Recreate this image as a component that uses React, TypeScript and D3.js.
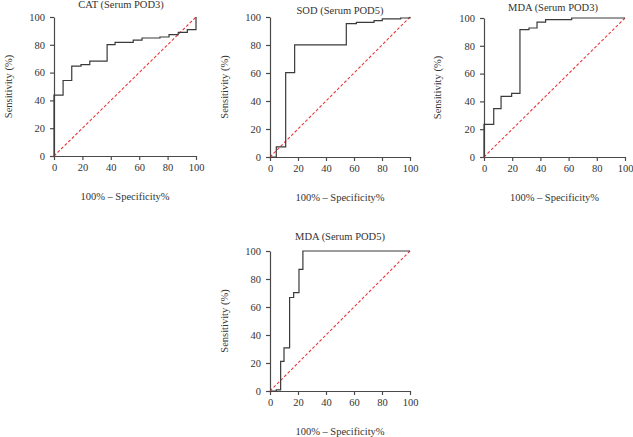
import React, { useEffect, useRef } from 'react';
import * as d3 from 'd3';

// ROC step points (100% - specificity, sensitivity)
const catX = [0, 0, 6.4, 12.5, 19, 25.2, 37.4, 43, 55.8, 62, 74.6, 81, 87.5, 93.9, 100];
const catY = [0, 43.8, 54.3, 64.6, 65.8, 68.2, 80.1, 81.8, 83.3, 84.9, 85.6, 87.3, 89, 90.9, 100];

const sodX = [0, 4.5, 11.2, 17.6, 54.5, 61.7, 74.3, 80.2, 93.3, 100];
const sodY = [0, 7.2, 60.3, 80.1, 95.2, 96.2, 97.4, 98.6, 99.3, 100];

const mda3X = [0, 0, 6.9, 12.1, 19.6, 25.5, 31.9, 37.6, 43.7, 62.2, 100];
const mda3Y = [0, 23.5, 34.8, 43.6, 45.8, 91.6, 92.8, 97.1, 98.8, 100, 100];

const mda5X = [0, 4.5, 7.6, 10, 14, 16.9, 20.7, 23.5, 100];
const mda5Y = [0, 0.8, 21.2, 30.8, 66.8, 70.2, 86.9, 100, 100];

const titles = ['CAT (Serum POD3)', 'SOD (Serum POD5)', 'MDA (Serum POD3)', 'MDA (Serum POD5)'];
const axisTicks = [0, 20, 40, 60, 80, 100];

const FONT = '"Liberation Serif", "DejaVu Serif", serif';

// panel placement on the page (pixels)
const panels = [
  { xs: catX, ys: catY, title: titles[0], left: 54, right: 196, top: 17, bottom: 156, titleX: 121, titleY: 8, yLabX: 8 },
  { xs: sodX, ys: sodY, title: titles[1], left: 270, right: 410, top: 17, bottom: 157, titleX: 340, titleY: 14, yLabX: 224 },
  { xs: mda3X, ys: mda3Y, title: titles[2], left: 484, right: 625, top: 18, bottom: 157, titleX: 553, titleY: 11, yLabX: 437 },
  { xs: mda5X, ys: mda5Y, title: titles[3], left: 270, right: 410, top: 251, bottom: 391, titleX: 340, titleY: 240, yLabX: 224 },
];

const App = () => {
  const svgRef = useRef<SVGSVGElement>(null);

  useEffect(() => {
    const svg = d3.select(svgRef.current);
    svg.selectAll('*').remove();

    panels.forEach((p) => {
      const x = d3.scaleLinear().domain([0, 100]).range([p.left, p.right]);
      const y = d3.scaleLinear().domain([0, 100]).range([p.bottom, p.top]);
      const g = svg.append('g');

      // axes
      const xAxis = g
        .append('g')
        .attr('transform', `translate(0,${p.bottom})`)
        .call(d3.axisBottom(x).tickValues(axisTicks).tickSize(4).tickSizeOuter(0).tickPadding(4));
      const yAxis = g
        .append('g')
        .attr('transform', `translate(${p.left},0)`)
        .call(d3.axisLeft(y).tickValues(axisTicks).tickSize(4).tickSizeOuter(0).tickPadding(5));
      [xAxis, yAxis].forEach((a) => {
        a.selectAll('path, line').attr('stroke', '#4a4a4a').attr('stroke-width', 1.2);
        a.selectAll('text').attr('fill', '#333').style('font-family', FONT).style('font-size', '10.5px');
      });

      // chance line
      g.append('line')
        .attr('x1', x(0))
        .attr('y1', y(0))
        .attr('x2', x(100))
        .attr('y2', y(100))
        .attr('stroke', '#e8383b')
        .attr('stroke-width', 1.1)
        .attr('stroke-dasharray', '3,2');

      // ROC curve
      const pts = p.xs.map((v, i) => [v, p.ys[i]] as [number, number]);
      const line = d3
        .line<[number, number]>()
        .x((d) => x(d[0]))
        .y((d) => y(d[1]))
        .curve(d3.curveStepAfter);
      g.append('path')
        .attr('d', line(pts))
        .attr('fill', 'none')
        .attr('stroke', '#3a3a3a')
        .attr('stroke-width', 1.2);

      // labels
      g.append('text')
        .attr('x', p.titleX)
        .attr('y', p.titleY)
        .attr('text-anchor', 'middle')
        .style('font-family', FONT)
        .style('font-size', '10.5px')
        .attr('fill', '#333')
        .text(p.title);
      g.append('text')
        .attr('x', (p.left + p.right) / 2)
        .attr('y', p.bottom + 44)
        .attr('text-anchor', 'middle')
        .style('font-family', FONT)
        .style('font-size', '10.5px')
        .attr('fill', '#333')
        .text('100% – Specificity%');
      g.append('text')
        .attr('transform', `translate(${p.yLabX},${(p.top + p.bottom) / 2}) rotate(-90)`)
        .attr('text-anchor', 'middle')
        .attr('dy', '0.35em')
        .style('font-family', FONT)
        .style('font-size', '10.5px')
        .attr('fill', '#333')
        .text('Sensitivity (%)');
    });
  }, []);

  return (
    <svg
      ref={svgRef}
      width={633}
      height={437}
      style={{ position: 'absolute', left: 0, top: 0, background: '#fff' }}
    />
  );
};

export default App;
